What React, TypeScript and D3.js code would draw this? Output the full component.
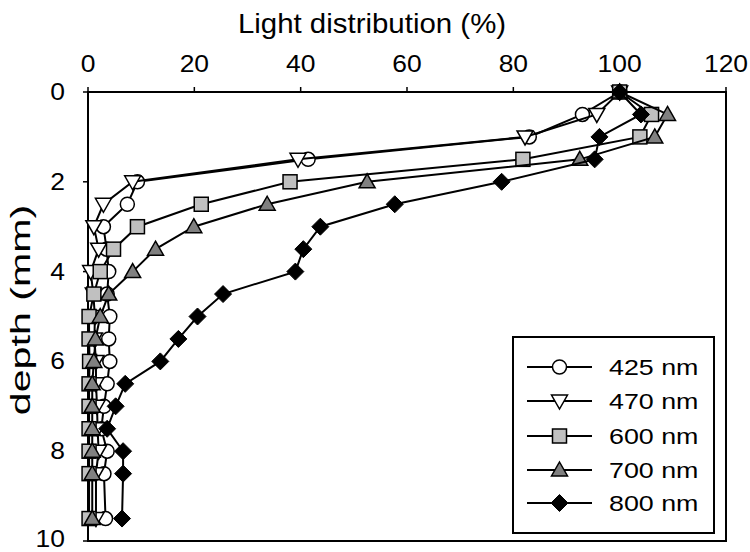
import React from "react";
import * as d3 from "d3";

const depths = [0, 0.5, 1, 1.5, 2, 2.5, 3, 3.5, 4, 4.5, 5, 5.5, 6, 6.5, 7, 7.5, 8, 8.5, 9.5];
const s425 = [100, 93, 83, 41.4, 9.3, 7.4, 2.9, 3.5, 3.9, 3.6, 4.1, 3.9, 4.1, 3.6, 3.0, 2.5, 3.6, 3.0, 3.3];
const s470 = [100, 95.7, 82.2, 39.5, 8.4, 2.9, 1.1, 2.0, 0.5, 1.0, 1.3, 1.2, 1.5, 1.5, 1.7, 1.8, 2.0, 1.5, 1.5];
const s600 = [100, 106, 103.8, 81.8, 38, 21.3, 9.3, 4.8, 2.3, 1.1, 0.2, 0.2, 0.3, 0.2, 0.2, 0.2, 0.2, 0.2, 0.2];
const s700 = [100, 109, 106.6, 92.5, 52.5, 33.7, 19.9, 12.7, 8.4, 3.9, 2.3, 1.4, 1.1, 0.8, 0.8, 0.8, 0.8, 0.8, 0.8];
const s800 = [100, 104, 96.2, 95.3, 77.8, 57.7, 43.7, 40.5, 39, 25.4, 20.6, 17, 13.6, 7.0, 5.2, 3.6, 6.6, 6.6, 6.4];
const seriesNames = ["425 nm", "470 nm", "600 nm", "700 nm", "800 nm"];
const seriesValues = [s425, s470, s600, s700, s800];
const xTicks = [0, 20, 40, 60, 80, 100, 120];
const yTicks = [0, 2, 4, 6, 8, 10];

const FONT = "'Liberation Sans', Arial, sans-serif";

function Marker({ kind, x, y }: { kind: number; x: number; y: number }) {
  const sw = 1.5;
  if (kind === 0) return <circle cx={x} cy={y} r={7} fill="#fff" stroke="#000" strokeWidth={sw} />;
  if (kind === 1) {
    const s = 8;
    return <path d={`M${x - s},${y - s * 0.75}L${x + s},${y - s * 0.75}L${x},${y + s}Z`} fill="#fff" stroke="#000" strokeWidth={sw} />;
  }
  if (kind === 2) return <rect x={x - 7} y={y - 7} width={14} height={14} fill="#c0c0c0" stroke="#000" strokeWidth={sw} />;
  if (kind === 3) {
    const s = 8;
    return <path d={`M${x},${y - s}L${x + s},${y + s * 0.75}L${x - s},${y + s * 0.75}Z`} fill="#808080" stroke="#000" strokeWidth={sw} />;
  }
  const s = 8.5;
  return <path d={`M${x},${y - s}L${x + s},${y}L${x},${y + s}L${x - s},${y}Z`} fill="#000" stroke="#000" strokeWidth={1} />;
}

function T({ x, y, size, k, anchor, rot, children }: { x: number; y: number; size: number; k: number; anchor?: string; rot?: number; children: React.ReactNode }) {
  return (
    <text
      transform={`translate(${x},${y}) rotate(${rot || 0}) scale(${k},1)`}
      textAnchor={anchor || "start"}
      fontFamily={FONT}
      fontSize={size}
      fill="#000"
    >
      {children}
    </text>
  );
}

export default function App() {
  const W = 750, H = 552;
  const x = d3.scaleLinear().domain([0, 120]).range([88, 726]);
  const y = d3.scaleLinear().domain([0, 10]).range([92, 541]);
  const line = d3.line<[number, number]>().x((d) => x(d[0])).y((d) => y(d[1]));

  const legX = 513, legY = 337, legW = 201, legH = 196;
  const rowY = [367, 401, 436, 470, 503];

  return (
    <svg width={W} height={H} style={{ position: "absolute", left: 0, top: 0, background: "#fff" }}>
      <rect x={0} y={0} width={W} height={H} fill="#fff" />
      <T x={372} y={33} size={27} k={1.09} anchor="middle">Light distribution (%)</T>
      {xTicks.map((t) => (
        <g key={"xt" + t}>
          <line x1={x(t)} x2={x(t)} y1={y(0) - 5} y2={y(0)} stroke="#000" strokeWidth={1.5} />
          <T x={x(t)} y={72} size={23} k={1.15} anchor="middle">{t}</T>
        </g>
      ))}
      {yTicks.map((t) => (
        <g key={"yt" + t}>
          <line x1={x(0) - 5} x2={x(0)} y1={y(t)} y2={y(t)} stroke="#000" strokeWidth={1.5} />
          <T x={65} y={Math.min(y(t) + 8, 547)} size={23} k={1.15} anchor="end">{t}</T>
        </g>
      ))}
      <T x={30} y={310} size={28} k={1.47} anchor="middle" rot={-90}>depth (mm)</T>
      <rect x={x(0)} y={y(0)} width={x(120) - x(0)} height={y(10) - y(0)} fill="none" stroke="#000" strokeWidth={2} />
      {seriesValues.map((vals, i) => {
        const pts: [number, number][] = vals.map((v, j) => [v, depths[j]]);
        return (
          <g key={"s" + i}>
            <path d={line(pts) || ""} fill="none" stroke="#000" strokeWidth={2} />
            {pts.map((p, j) => (
              <Marker key={j} kind={i} x={x(p[0])} y={y(p[1])} />
            ))}
          </g>
        );
      })}
      <rect x={legX} y={legY} width={legW} height={legH} fill="#fff" stroke="#000" strokeWidth={2} />
      {seriesNames.map((n, i) => (
        <g key={"l" + i}>
          <line x1={527} x2={592} y1={rowY[i]} y2={rowY[i]} stroke="#000" strokeWidth={2} />
          <Marker kind={i} x={559.5} y={rowY[i]} />
          <T x={609} y={rowY[i] + 8} size={22} k={1.22}>{n}</T>
        </g>
      ))}
    </svg>
  );
}
